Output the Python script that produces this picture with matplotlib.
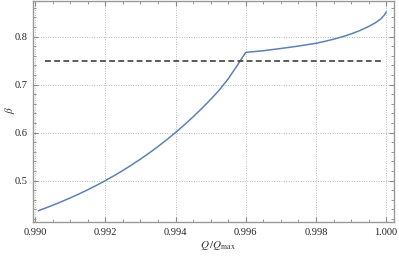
import numpy as np
import matplotlib
matplotlib.use("Agg")
import matplotlib.pyplot as plt
from matplotlib.ticker import MultipleLocator

# nhanh duoi (truoc diem gay 0.996)
q_low = [0.99010, 0.99025, 0.99050, 0.99075, 0.99100, 0.99125, 0.99150,
         0.99175, 0.99200, 0.99225, 0.99250, 0.99275, 0.99300, 0.99325,
         0.99350, 0.99375, 0.99400, 0.99425, 0.99450, 0.99475, 0.99500,
         0.99525, 0.99550, 0.99575, 0.99590, 0.99600]
beta_low = [0.4376, 0.4417, 0.4487, 0.4562, 0.4640, 0.4723, 0.4811,
            0.4903, 0.5000, 0.5103, 0.5212, 0.5327, 0.5448, 0.5575,
            0.5710, 0.5852, 0.6003, 0.6161, 0.6328, 0.6505, 0.6691,
            0.6890, 0.7120, 0.7390, 0.7560, 0.7670]

# nhanh tren
q_high = [0.99600, 0.99650, 0.99700, 0.99750, 0.99800, 0.99825, 0.99850,
          0.99875, 0.99900, 0.99925, 0.99950, 0.99970, 0.99985, 0.99995,
          1.00000]
beta_high = [0.7670, 0.7705, 0.7752, 0.7802, 0.7860, 0.7900, 0.7945,
             0.7995, 0.8055, 0.8125, 0.8210, 0.8290, 0.8370, 0.8450,
             0.8510]

# duong ngang
beta_ref = 0.75
q_ref = [0.99028, 0.99995]

plt.rcParams['font.family'] = ['Liberation Serif', 'DejaVu Serif']
plt.rcParams['mathtext.fontset'] = 'stix'

fig = plt.figure(figsize=(3.99, 2.56), dpi=100)
ax = fig.add_axes([0.0827, 0.133, 0.905, 0.863])

blue = '#5E81B5'
ax.plot(q_low + q_high[1:], beta_low + beta_high[1:], color=blue, lw=1.1)
ax.plot(q_ref, [beta_ref, beta_ref], color='#404040', lw=1.2, ls=(0, (3.5, 2)))

ax.set_xlim(0.98994, 1.000225)
ax.set_ylim(0.414, 0.874)

ax.xaxis.set_major_locator(MultipleLocator(0.002))
ax.xaxis.set_minor_locator(MultipleLocator(0.0005))
ax.yaxis.set_major_locator(MultipleLocator(0.1))
ax.yaxis.set_minor_locator(MultipleLocator(0.02))
ax.set_xticks([0.990, 0.992, 0.994, 0.996, 0.998, 1.000])
ax.set_xticklabels(['0.990', '0.992', '0.994', '0.996', '0.998', '1.000'])
ax.set_yticks([0.5, 0.6, 0.7, 0.8])
ax.set_yticklabels(['0.5', '0.6', '0.7', '0.8'])

ax.tick_params(which='both', direction='in', top=True, right=True,
               color='#888888', labelsize=7.5, labelcolor='#222222', pad=4)
ax.tick_params(which='major', length=3.5, width=0.8)
ax.tick_params(which='minor', length=2, width=0.6)
for s in ax.spines.values():
    s.set_color('#999999')
    s.set_linewidth(1.0)

ax.grid(True, which='major', color='#bbbbbb', ls=(0, (1, 1.5)), lw=0.7)

ax.set_xlabel(r'$Q\,/Q_{\mathrm{max}}$', fontsize=8, color='#333333')
ax.set_ylabel(r'$\beta$', fontsize=8, color='#333333')
ax.xaxis.set_label_coords(0.512, -0.075)
ax.yaxis.set_label_coords(-0.045, 0.507)

fig.savefig('out.png', dpi=100)
